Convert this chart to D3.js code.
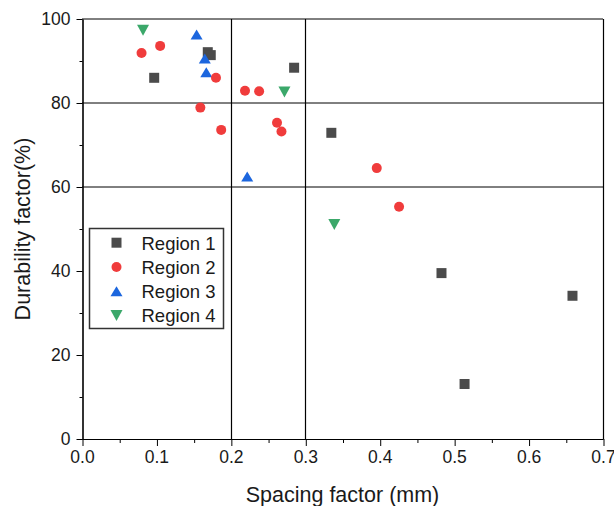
<!DOCTYPE html>
<html>
<head>
<meta charset="utf-8">
<script src="https://cdn.jsdelivr.net/npm/d3@7"></script>
<style>
  html, body { margin: 0; padding: 0; background: #fff; }
  svg { display: block; font-family: "Liberation Sans", Arial, sans-serif; }
</style>
</head>
<body>
<svg id="chart" width="614" height="506"></svg>
<script>
// Spacing factor (mm) and durability factor (%) per region
const region1X = [0.097, 0.169, 0.173, 0.285, 0.335, 0.483, 0.514, 0.659];
const region1Y = [86.0, 92.1, 91.4, 88.4, 72.9, 39.5, 13.1, 34.1];
const region2X = [0.080, 0.105, 0.159, 0.180, 0.187, 0.219, 0.238, 0.262, 0.268, 0.396, 0.426];
const region2Y = [91.9, 93.6, 78.9, 86.0, 73.6, 82.9, 82.8, 75.3, 73.2, 64.5, 55.3];
const region3X = [0.154, 0.165, 0.167, 0.222];
const region3Y = [96.3, 90.6, 87.3, 62.5];
const region4X = [0.082, 0.272, 0.339];
const region4Y = [97.3, 82.6, 51.1];

const seriesNames = ["Region 1", "Region 2", "Region 3", "Region 4"];
const xTicks = [0, 0.1, 0.2, 0.3, 0.4, 0.5, 0.6, 0.7];
const xMinorTicks = [0.05, 0.15, 0.25, 0.35, 0.45, 0.55, 0.65];
const yTicks = [0, 20, 40, 60, 80, 100];
const yMinorTicks = [10, 30, 50, 70, 90];
// Threshold lines dividing the plot into quadrants
const xGuides = [0.2, 0.3];
const yGuides = [60, 80];

const styles = [
  { shape: "square",   color: "#4b4b4b" },
  { shape: "circle",   color: "#f03c3c" },
  { shape: "triangle", color: "#1c66de" },
  { shape: "down",     color: "#3ba86a" }
];

const series = [
  { xs: region1X, ys: region1Y },
  { xs: region2X, ys: region2Y },
  { xs: region3X, ys: region3Y },
  { xs: region4X, ys: region4Y }
].map((s, i) => ({
  name: seriesNames[i],
  style: styles[i],
  points: s.xs.map((x, j) => ({ x, y: s.ys[j] }))
}));

const svg = d3.select("#chart");
const x = d3.scaleLinear().domain([0, 0.7]).range([82, 603]);
const y = d3.scaleLinear().domain([0, 100]).range([439, 19]);

function markerPath(shape) {
  if (shape === "square") return "M-5,-5H5V5H-5Z";
  if (shape === "circle") return "M-5,0A5,5 0 1,0 5,0A5,5 0 1,0 -5,0Z";
  if (shape === "triangle") return "M0,-5L6,5H-6Z";
  return "M-6,-5.5H6L0,5.5Z";
}

// Guide lines
svg.append("g").selectAll("line").data(xGuides).join("line")
  .attr("x1", d => Math.round(x(d)) + 0.5).attr("x2", d => Math.round(x(d)) + 0.5)
  .attr("y1", y(0)).attr("y2", y(100))
  .attr("stroke", "#000").attr("stroke-width", 1.2);
svg.append("g").selectAll("line").data(yGuides).join("line")
  .attr("x1", x(0)).attr("x2", x(0.7))
  .attr("y1", d => y(d)).attr("y2", d => y(d))
  .attr("stroke", "#000").attr("stroke-width", 1);

// Frame: top and right edges
svg.append("line").attr("x1", x(0)).attr("x2", x(0.7)).attr("y1", y(100)).attr("y2", y(100))
  .attr("stroke", "#000").attr("stroke-width", 1);
svg.append("line").attr("x1", Math.round(x(0.7)) + 0.5).attr("x2", Math.round(x(0.7)) + 0.5)
  .attr("y1", y(100)).attr("y2", y(0))
  .attr("stroke", "#000").attr("stroke-width", 1.2);

// Axes
const tickFont = "17.5px";
const xAxis = svg.append("g").attr("transform", `translate(0,${y(0)})`)
  .call(d3.axisBottom(x).tickValues(xTicks).tickFormat(d3.format(".1f")).tickSize(7).tickSizeOuter(0).tickPadding(5));
const xMinor = svg.append("g").attr("transform", `translate(0,${y(0)})`)
  .call(d3.axisBottom(x).tickValues(xMinorTicks).tickFormat("").tickSize(4).tickSizeOuter(0));
const yAxis = svg.append("g").attr("transform", `translate(${Math.round(x(0)) + 0.5},0)`)
  .call(d3.axisLeft(y).tickValues(yTicks).tickSize(6).tickSizeOuter(0).tickPadding(6));
const yMinor = svg.append("g").attr("transform", `translate(${Math.round(x(0)) + 0.5},0)`)
  .call(d3.axisLeft(y).tickValues(yMinorTicks).tickFormat("").tickSize(3).tickSizeOuter(0));

[xAxis, xMinor, yAxis, yMinor].forEach(g => {
  g.select(".domain").attr("stroke", "#000").attr("stroke-width", 1);
  g.selectAll(".tick line").attr("stroke", "#000").attr("stroke-width", 1);
  g.selectAll("text").attr("font-size", tickFont).attr("fill", "#1a1a1a")
    .attr("font-family", "'Liberation Sans', Arial, sans-serif");
});
xAxis.selectAll(".tick line").attr("transform", "translate(0.5,0)");
xMinor.selectAll(".tick line").attr("transform", "translate(0.5,0)");
yAxis.select(".domain").attr("stroke-width", 1.2);

// Axis titles
svg.append("text").attr("x", (x(0) + x(0.7)) / 2).attr("y", 502)
  .attr("text-anchor", "middle").attr("font-size", "21.5px").attr("fill", "#1a1a1a")
  .text("Spacing factor (mm)");
svg.append("text").attr("transform", `translate(30,${(y(0) + y(100)) / 2}) rotate(-90)`)
  .attr("text-anchor", "middle").attr("font-size", "21.5px").attr("fill", "#1a1a1a")
  .text("Durability factor(%)");

// Points
const drawOrder = [0, 2, 1, 3];
drawOrder.forEach(i => {
  const s = series[i];
  svg.append("g").selectAll("path").data(s.points).join("path")
    .attr("d", markerPath(s.style.shape))
    .attr("transform", d => `translate(${x(d.x)},${y(d.y)})`)
    .attr("fill", s.style.color);
});

// Legend
const legend = svg.append("g").attr("transform", "translate(89,228)");
legend.append("rect").attr("x", 0.5).attr("y", 0.5).attr("width", 134).attr("height", 100)
  .attr("fill", "#fff").attr("stroke", "#333").attr("stroke-width", 1.5);
const rows = legend.selectAll("g.row").data(series).join("g")
  .attr("class", "row")
  .attr("transform", (d, i) => `translate(0,${14.7 + i * 24.3})`);
rows.append("path").attr("d", d => markerPath(d.style.shape))
  .attr("transform", "translate(27.5,0)")
  .attr("fill", d => d.style.color);
rows.append("text").attr("x", 52.5).attr("y", 6.8)
  .attr("font-size", "18.5px").attr("fill", "#1a1a1a")
  .text(d => d.name);
</script>
</body>
</html>
